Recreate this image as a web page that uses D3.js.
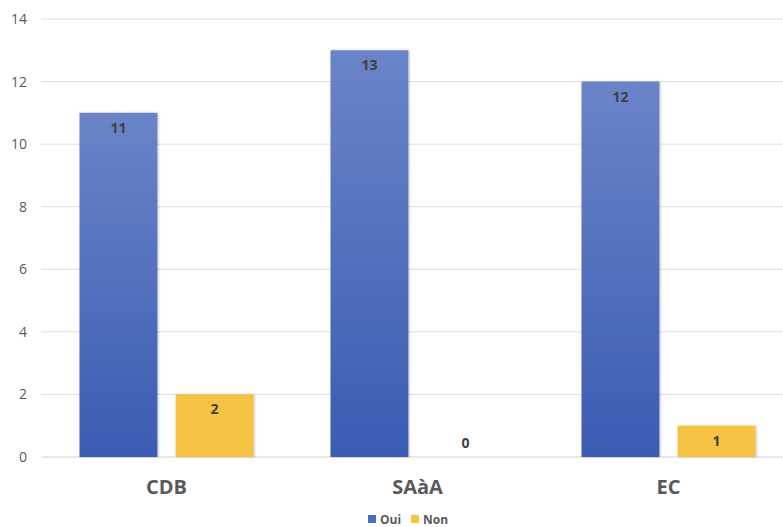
<!DOCTYPE html>
<html><head><meta charset="utf-8">
<script src="https://cdn.jsdelivr.net/npm/d3@7"></script>
<style>body{margin:0;background:#fff;}svg{display:block;font-family:"Open Sans",sans-serif;}</style>
</head><body>
<svg id="c" width="783" height="527"></svg>
<script>
const categories = ["CDB", "SAàA", "EC"];
const seriesNames = ["Oui", "Non"];
const oui = [11, 13, 12];
const non = [2, 0, 1];
const yTicks = [0, 2, 4, 6, 8, 10, 12, 14];

const svg = d3.select("#c");
const defs = svg.append("defs");
const g1 = defs.append("linearGradient").attr("id","gBlue").attr("x1",0).attr("x2",0).attr("y1",0).attr("y2",1);
g1.append("stop").attr("offset","0%").attr("stop-color","#6a84c8");
g1.append("stop").attr("offset","100%").attr("stop-color","#3a5cb2");
const f = defs.append("filter").attr("id","sh").attr("x","-10%").attr("y","-10%").attr("width","130%").attr("height","130%");
f.append("feDropShadow").attr("dx",1).attr("dy",0).attr("stdDeviation",1.2).attr("flood-color","#000").attr("flood-opacity",0.25);

const x0 = d3.scaleBand().domain(categories).range([41, 794]).paddingInner(0).paddingOuter(0);
const x1 = d3.scaleBand().domain(seriesNames).range([38.5, 212.5]).paddingInner(0.19);
const y = d3.scaleLinear().domain([0, 14]).range([457, 19]);

svg.append("g").selectAll("line").data(yTicks).join("line")
  .attr("x1", 41).attr("x2", 794)
  .attr("y1", d => y(d)).attr("y2", d => y(d))
  .attr("stroke", d => d === 0 ? "#d0d0d0" : "#dedede").attr("stroke-width", 1);

const yAxis = d3.axisLeft(y).tickValues(yTicks).tickSize(0).tickPadding(0);
const ya = svg.append("g").attr("transform","translate(27,0)").call(yAxis);
ya.select(".domain").remove();
ya.selectAll("text").attr("fill","#595959").style("font-size","14px").style("font-family","'Open Sans',sans-serif");

const colors = {Oui: "url(#gBlue)", Non: "#f5c242"};
const data = categories.map((c,i) => ({cat:c, vals:[{s:"Oui", v:oui[i]},{s:"Non", v:non[i]}]}));

const groups = svg.append("g").selectAll("g").data(data).join("g")
  .attr("transform", d => `translate(${x0(d.cat)},0)`);
groups.selectAll("rect").data(d => d.vals.filter(e => e.v > 0)).join("rect")
  .attr("x", d => x1(d.s)).attr("width", x1.bandwidth())
  .attr("y", d => y(d.v)).attr("height", d => y(0) - y(d.v))
  .attr("fill", d => colors[d.s]).attr("filter","url(#sh)");
groups.selectAll("text").data(d => d.vals).join("text")
  .attr("x", d => x1(d.s) + x1.bandwidth()/2)
  .attr("y", d => d.v > 0 ? y(d.v) + 20 : y(0) - 9)
  .attr("text-anchor","middle").attr("fill","#404040")
  .style("font-size","14px").style("font-weight","700")
  .text(d => d.v);

const xAxis = d3.axisBottom(x0).tickSize(0).tickPadding(0);
const xa = svg.append("g").attr("transform","translate(0,480)").call(xAxis);
xa.select(".domain").remove();
xa.selectAll("text").attr("fill","#595959").attr("dy","0.71em").style("font-size","20px").style("font-weight","700").style("font-family","'Open Sans',sans-serif");

const legend = svg.append("g").attr("transform","translate(368,515)");
const legX = [0, 43];
const legColors = ["#4a6cc0", "#f5c242"];
seriesNames.forEach((s,i) => {
  legend.append("rect").attr("x", legX[i]).attr("y", 0).attr("width", 8).attr("height", 8).attr("fill", legColors[i]);
  legend.append("text").attr("x", legX[i] + 12).attr("y", 8.5).attr("fill","#595959")
    .style("font-size","12px").style("font-weight","700").text(s);
});
</script>
</body></html>
